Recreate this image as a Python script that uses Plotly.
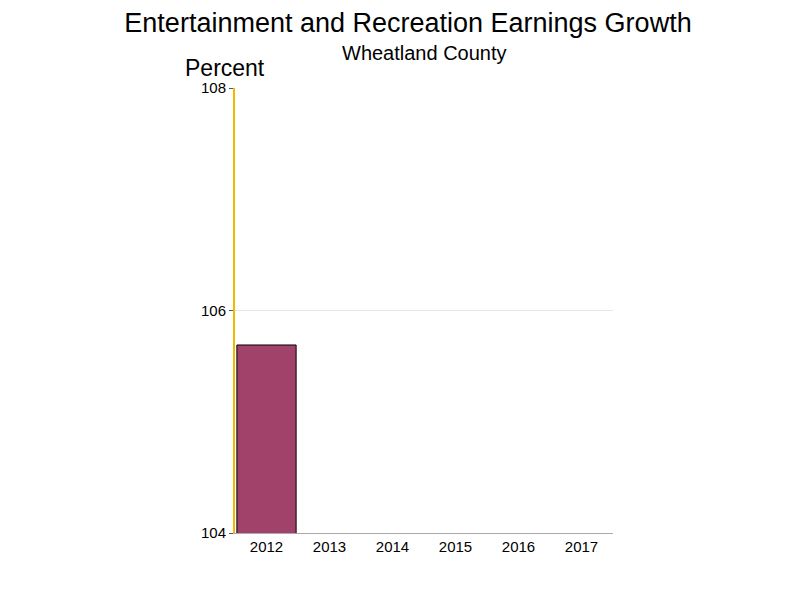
import plotly.graph_objects as go

years = ["2012", "2013", "2014", "2015", "2016", "2017"]
growth = [105.69, None, None, None, None, None]
tick_vals = [104, 106, 108]

fig = go.Figure()
fig.add_trace(go.Bar(
    x=years, y=growth,
    marker=dict(color="#a0426a", line=dict(color="black", width=1)),
))

fig.update_layout(
    width=800, height=600,
    paper_bgcolor="white", plot_bgcolor="white",
    margin=dict(l=227, r=195, t=80, b=75),
    bargap=0.06,
    showlegend=False,
    font=dict(family="Liberation Sans, Arial", color="black"),
    title=dict(text="Entertainment and Recreation Earnings Growth",
               x=0.5, xanchor="center", y=0.992, yanchor="top",
               font=dict(size=27)),
    annotations=[
        dict(text="Wheatland County", x=0.5, xref="paper", xanchor="center",
             y=1.079, yref="paper", yanchor="middle", showarrow=False,
             font=dict(size=20)),
        dict(text="Percent", x=-0.138, xref="paper", xanchor="left",
             y=1.045, yref="paper", yanchor="middle", showarrow=False,
             font=dict(size=23)),
    ],
)
fig.update_xaxes(showline=True, linecolor="#aaaaaa", ticks="", showgrid=False,
                 tickfont=dict(size=15))
fig.update_yaxes(range=[104, 108], tickvals=tick_vals, showline=True,
                 linecolor="#f5b800", linewidth=2, showgrid=True,
                 gridcolor="#e6e6e6", ticks="outside", ticklen=4,
                 tickcolor="#555555", tickfont=dict(size=15), zeroline=False)

fig.write_html("out.html")
